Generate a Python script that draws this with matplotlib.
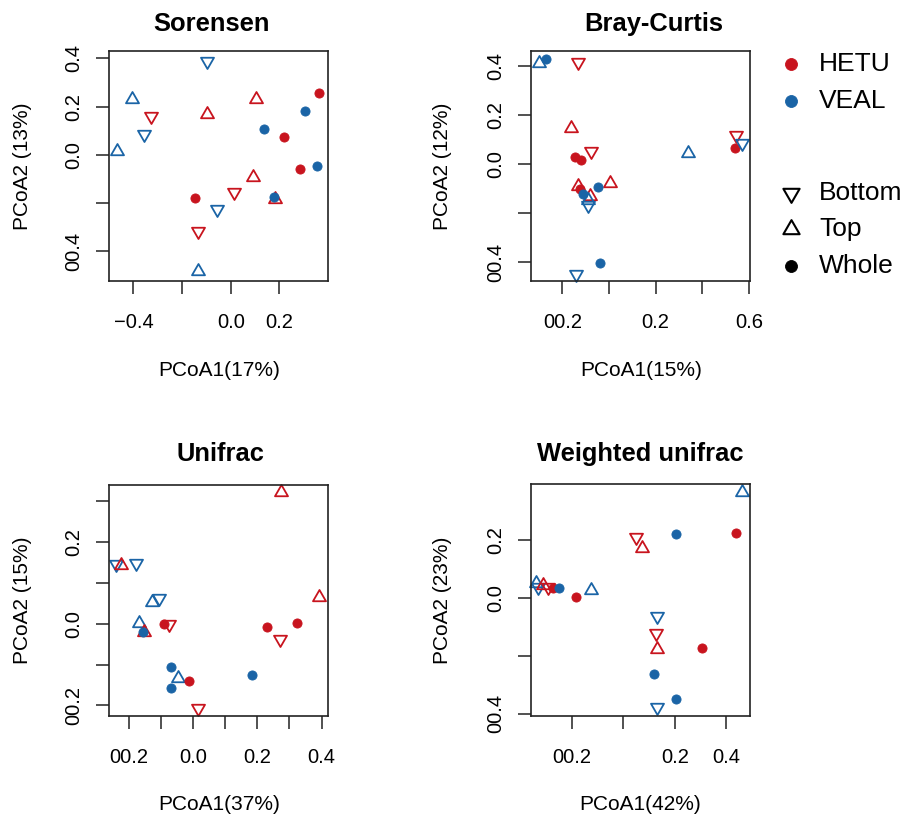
import matplotlib
matplotlib.use("Agg")
import matplotlib.pyplot as plt
from matplotlib.path import Path
import numpy as np

plt.rcParams['font.family'] = ['Liberation Sans', 'DejaVu Sans']

RED = '#C8141E'
BLUE = '#1A64A6'

# ---------------- data ----------------
# Sorensen
sor_x = [-0.096, -0.404, -0.327, -0.355, -0.466, -0.096, 0.104, 0.364, 0.305, 0.138, 0.219,
         0.284, 0.356, 0.093, 0.015, -0.145, 0.182, 0.179, -0.058, -0.134, -0.134]
sor_y = [0.390, 0.231, 0.162, 0.085, 0.017, 0.168, 0.231, 0.255, 0.180, 0.107, 0.075,
         -0.057, -0.046, -0.090, -0.153, -0.180, -0.184, -0.176, -0.226, -0.316, -0.481]
sor_site = ['VEAL', 'VEAL', 'HETU', 'VEAL', 'VEAL', 'HETU', 'HETU', 'HETU', 'VEAL', 'VEAL', 'HETU',
            'HETU', 'VEAL', 'HETU', 'HETU', 'HETU', 'HETU', 'VEAL', 'VEAL', 'HETU', 'VEAL']
sor_part = ['Bottom', 'Top', 'Bottom', 'Bottom', 'Top', 'Top', 'Top', 'Whole', 'Whole', 'Whole', 'Whole',
            'Whole', 'Whole', 'Top', 'Bottom', 'Whole', 'Top', 'Whole', 'Bottom', 'Bottom', 'Top']

# Bray-Curtis
bc_x = [-0.299, -0.270, -0.134, -0.163, -0.079, -0.146, -0.121, -0.134, 0.004, -0.046, -0.124,
        -0.081, -0.110, -0.089, -0.091, -0.037, -0.141, 0.340, 0.543, 0.540, 0.569]
bc_y = [0.412, 0.427, 0.416, 0.148, 0.054, 0.030, 0.016, -0.089, -0.076, -0.095, -0.102,
        -0.130, -0.123, -0.146, -0.166, -0.404, -0.447, 0.046, 0.118, 0.066, 0.084]
bc_site = ['VEAL', 'VEAL', 'HETU', 'HETU', 'HETU', 'HETU', 'HETU', 'HETU', 'HETU', 'VEAL', 'HETU',
           'HETU', 'VEAL', 'VEAL', 'VEAL', 'VEAL', 'VEAL', 'VEAL', 'HETU', 'HETU', 'VEAL']
bc_part = ['Top', 'Whole', 'Bottom', 'Top', 'Bottom', 'Whole', 'Whole', 'Top', 'Top', 'Whole', 'Whole',
           'Top', 'Whole', 'Top', 'Bottom', 'Whole', 'Bottom', 'Top', 'Bottom', 'Whole', 'Bottom']

# Unifrac
uf_x = [0.274, -0.239, -0.225, -0.177, -0.128, -0.106, 0.393, -0.168, -0.091, -0.075, -0.152,
        -0.156, 0.229, 0.325, 0.270, -0.067, -0.046, -0.013, -0.067, 0.185, 0.017]
uf_y = [0.323, 0.146, 0.144, 0.150, 0.054, 0.064, 0.066, 0.002, 0.000, -0.001, -0.020,
        -0.020, -0.007, 0.002, -0.038, -0.105, -0.132, -0.140, -0.156, -0.125, -0.205]
uf_site = ['HETU', 'VEAL', 'HETU', 'VEAL', 'VEAL', 'VEAL', 'HETU', 'VEAL', 'HETU', 'HETU', 'HETU',
           'VEAL', 'HETU', 'HETU', 'HETU', 'VEAL', 'VEAL', 'HETU', 'VEAL', 'VEAL', 'HETU']
uf_part = ['Top', 'Bottom', 'Top', 'Bottom', 'Top', 'Bottom', 'Top', 'Top', 'Whole', 'Bottom', 'Top',
           'Whole', 'Whole', 'Whole', 'Bottom', 'Whole', 'Top', 'Whole', 'Whole', 'Whole', 'Bottom']

# Weighted unifrac
wu_x = [0.460, 0.439, 0.205, 0.050, 0.074, -0.337, -0.331, -0.311, -0.292, -0.273, -0.250,
        -0.182, -0.124, 0.130, 0.126, 0.132, 0.306, 0.119, 0.205, 0.132]
wu_y = [0.368, 0.227, 0.221, 0.210, 0.175, 0.051, 0.038, 0.045, 0.038, 0.034, 0.034,
        0.005, 0.028, -0.062, -0.120, -0.177, -0.174, -0.263, -0.350, -0.378]
wu_site = ['VEAL', 'HETU', 'VEAL', 'HETU', 'HETU', 'VEAL', 'VEAL', 'HETU', 'HETU', 'HETU', 'VEAL',
           'HETU', 'VEAL', 'VEAL', 'HETU', 'HETU', 'HETU', 'VEAL', 'VEAL', 'VEAL']
wu_part = ['Top', 'Whole', 'Whole', 'Bottom', 'Top', 'Top', 'Bottom', 'Top', 'Bottom', 'Whole', 'Whole',
           'Whole', 'Top', 'Bottom', 'Bottom', 'Top', 'Whole', 'Whole', 'Whole', 'Bottom']

titles = ['Sorensen', 'Bray-Curtis', 'Unifrac', 'Weighted unifrac']
xlabels = ['PCoA1(17%)', 'PCoA1(15%)', 'PCoA1(37%)', 'PCoA1(42%)']
ylabels = ['PCoA2 (13%)', 'PCoA2 (12%)', 'PCoA2 (15%)', 'PCoA2 (23%)']

sor_xt = [-0.4, -0.2, 0.0, 0.2];             sor_xtl = ['\u22120.4', '', '0.0', '0.2']
sor_yt = [-0.4, -0.2, 0.0, 0.2, 0.4];        sor_ytl = ['00.4', '', '0.0', '0.2', '0.4']
bc_xt = [-0.2, 0.0, 0.2, 0.4, 0.6];          bc_xtl = ['00.2', '', '0.2', '', '0.6']
bc_yt = [-0.4, -0.2, 0.0, 0.2, 0.4];         bc_ytl = ['00.4', '', '0.0', '0.2', '0.4']
uf_xt = [-0.2, -0.1, 0.0, 0.1, 0.2, 0.3, 0.4]; uf_xtl = ['00.2', '', '0.0', '', '0.2', '', '0.4']
uf_yt = [-0.2, -0.1, 0.0, 0.1, 0.2, 0.3];    uf_ytl = ['00.2', '', '0.0', '', '0.2', '']
wu_xt = [-0.2, 0.0, 0.2, 0.4];               wu_xtl = ['00.2', '', '0.2', '0.4']
wu_yt = [-0.4, -0.2, 0.0, 0.2];              wu_ytl = ['00.4', '', '0.0', '0.2']

sites = ['HETU', 'VEAL']
parts = ['Bottom', 'Top', 'Whole']

# ---------------- styling ----------------
W, H = 901, 816
fig = plt.figure(figsize=(W / 100, H / 100), dpi=100)

def rect(l, t, r, b):
    return [l / W, 1 - b / H, (r - l) / W, (b - t) / H]

UP = Path([(0, 1.555), (1.347, -0.778), (-1.347, -0.778), (0, 1.555)],
          [Path.MOVETO, Path.LINETO, Path.LINETO, Path.CLOSEPOLY])
DOWN = Path([(0, -1.555), (1.347, 0.778), (-1.347, 0.778), (0, -1.555)],
            [Path.MOVETO, Path.LINETO, Path.LINETO, Path.CLOSEPOLY])
site_col = {'HETU': RED, 'VEAL': BLUE}

def draw_pt(ax, x, y, col, part, dot_ms=6.6, tri_ms=10.8, lw=1.3):
    if part == 'Whole':
        ax.plot([x], [y], 'o', ms=dot_ms, mfc=col, mec=col, mew=0.6, clip_on=False)
    else:
        ax.plot([x], [y], marker=UP if part == 'Top' else DOWN, ms=tri_ms, mfc='none',
                mec=col, mew=lw, ls='none', clip_on=False)

panels = [
    (rect(109.3, 50.7, 328, 281), sor_x, sor_y, sor_site, sor_part, (-0.499, 0.40), (-0.523, 0.432),
     sor_xt, sor_xtl, sor_yt, sor_ytl),
    (rect(531, 50.7, 750, 281), bc_x, bc_y, bc_site, bc_part, (-0.334, 0.604), (-0.476, 0.461),
     bc_xt, bc_xtl, bc_yt, bc_ytl),
    (rect(109.3, 485, 328, 715.7), uf_x, uf_y, uf_site, uf_part, (-0.260, 0.420), (-0.225, 0.340),
     uf_xt, uf_xtl, uf_yt, uf_ytl),
    (rect(531, 484.3, 750, 715.7), wu_x, wu_y, wu_site, wu_part, (-0.358, 0.492), (-0.407, 0.394),
     wu_xt, wu_xtl, wu_yt, wu_ytl),
]

for (r, xs, ys, ss, ps, xl, yl, xt, xtl, yt, ytl) in panels:
    ax = fig.add_axes(r)
    for x, y, s, p in zip(xs, ys, ss, ps):
        draw_pt(ax, x, y, site_col[s], p)
    ax.set_xlim(*xl)
    ax.set_ylim(*yl)
    ax.set_xticks(xt)
    ax.set_xticklabels(xtl, fontsize=14.5)
    ax.set_yticks(yt)
    ax.set_yticklabels(ytl, fontsize=14.5, rotation=90, va='center')
    ax.tick_params(axis='both', direction='out', length=9.4, width=1.1, color='#222222')
    ax.tick_params(axis='x', pad=13.5)
    ax.tick_params(axis='y', pad=9.5)
    for sp in ax.spines.values():
        sp.set_linewidth(1.2)
        sp.set_color('#222222')

def ftext(x, y, s, **kw):
    fig.text(x / W, 1 - y / H, s, **kw)

# titles
for (x, y), t in zip([(212, 24), (654, 24), (220, 454), (640, 454)], titles):
    ftext(x, y, t, ha='center', va='center', fontsize=18.4, fontweight='bold')
# x labels
for (x, y), t in zip([(218.7, 371), (641, 371), (218.7, 805), (640.5, 805)], xlabels):
    ftext(x, y, t, ha='center', va='center', fontsize=15)
# y labels
for (x, y), t in zip([(23, 166), (443, 166), (23, 600), (443, 600)], ylabels):
    ftext(x, y, t, ha='center', va='center', fontsize=15, rotation=90)

# legend (overlay axes in pixel units)
lax = fig.add_axes([0, 0, 1, 1], facecolor='none')
lax.set_xlim(0, W)
lax.set_ylim(H, 0)
lax.axis('off')
leg_y_site = [64, 101]
for s, yy in zip(sites, leg_y_site):
    lax.plot([791], [yy], 'o', ms=8.6, mfc=site_col[s], mec=site_col[s], mew=0.6)
    lax.text(819, yy, s, ha='left', va='center', fontsize=19)
leg_y_part = [193, 229, 266]
for p, yy in zip(parts, leg_y_part):
    if p == 'Whole':
        lax.plot([791], [yy], 'o', ms=8.6, mfc='black', mec='black', mew=0.6)
    else:
        lax.plot([791], [yy], marker=UP if p == 'Top' else DOWN, ms=13.5, mfc='none',
                 mec='black', mew=1.5, ls='none')
    lax.text(819, yy, p, ha='left', va='center', fontsize=19)

fig.savefig('out.png', dpi=100)
